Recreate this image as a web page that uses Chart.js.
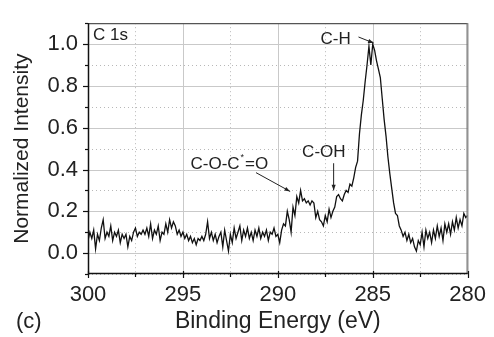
<!DOCTYPE html>
<html>
<head>
<meta charset="utf-8">
<style>
  html, body { margin: 0; padding: 0; background: #fff; }
  #wrap { width: 494px; height: 337px; position: relative; }
</style>
<script src="https://cdn.jsdelivr.net/npm/chart.js@4.4.1/dist/chart.umd.min.js"></script>
</head>
<body>
<div id="wrap"><canvas id="xps"></canvas></div>
<script>
// C 1s XPS spectrum

const energy = [
  300.0,299.9,299.8,299.7,299.6,299.5,299.4,299.3,299.2,299.1,
  299.0,298.9,298.8,298.7,298.6,298.5,298.4,298.3,298.2,298.1,
  298.0,297.9,297.8,297.7,297.6,297.5,297.4,297.3,297.2,297.1,
  297.0,296.9,296.8,296.7,296.6,296.5,296.4,296.3,296.2,296.1,
  296.0,295.9,295.8,295.7,295.6,295.5,295.4,295.3,295.2,295.1,
  295.0,294.9,294.8,294.7,294.6,294.5,294.4,294.3,294.2,294.1,
  294.0,293.9,293.8,293.7,293.6,293.5,293.4,293.3,293.2,293.1,
  293.0,292.9,292.8,292.7,292.6,292.5,292.4,292.3,292.2,292.1,
  292.0,291.9,291.8,291.7,291.6,291.5,291.4,291.3,291.2,291.1,
  291.0,290.9,290.8,290.7,290.6,290.5,290.4,290.3,290.2,290.1,
  290.0,289.9,289.8,289.7,289.6,289.5,289.4,289.3,289.2,289.1,
  289.0,288.9,288.8,288.7,288.6,288.5,288.4,288.3,288.2,288.1,
  288.0,287.9,287.8,287.7,287.6,287.5,287.4,287.3,287.2,287.1,
  287.0,286.9,286.8,286.7,286.6,286.5,286.4,286.3,286.2,286.1,
  286.0,285.9,285.8,285.7,285.6,285.5,285.4,285.3,285.2,285.1,
  285.0,284.9,284.8,284.7,284.6,284.5,284.4,284.3,284.2,284.1,
  284.0,283.9,283.8,283.7,283.6,283.5,283.4,283.3,283.2,283.1,
  283.0,282.9,282.8,282.7,282.6,282.5,282.4,282.3,282.2,282.1,
  282.0,281.9,281.8,281.7,281.6,281.5,281.4,281.3,281.2,281.1,
  281.0,280.9,280.8,280.7,280.6,280.5,280.4,280.3,280.2,280.1,
  280.0
];

const intensity = [
  0.06,0.10,0.07,0.11,0.02,0.09,0.06,0.12,0.16,0.07,
  0.10,0.08,0.13,0.06,0.10,0.08,0.11,0.05,0.09,0.07,
  0.09,0.03,0.08,0.06,0.10,0.12,0.08,0.10,0.09,0.11,
  0.09,0.12,0.08,0.14,0.07,0.11,0.09,0.13,0.06,0.10,
  0.09,0.14,0.10,0.16,0.12,0.15,0.13,0.09,0.11,0.08,
  0.10,0.07,0.09,0.06,0.08,0.05,0.07,0.04,0.07,0.06,
  0.08,0.06,0.09,0.15,0.07,0.10,0.06,0.09,0.05,0.08,
  0.10,0.03,0.11,0.06,0.01,0.09,0.05,0.12,0.07,0.10,
  0.13,0.06,0.11,0.08,0.12,0.07,0.10,0.06,0.11,0.08,
  0.12,0.07,0.10,0.08,0.11,0.06,0.10,0.09,0.12,0.08,
  0.09,0.05,0.11,0.14,0.13,0.20,0.16,0.10,0.22,0.18,
  0.27,0.24,0.30,0.25,0.26,0.24,0.25,0.23,0.25,0.24,
  0.17,0.20,0.16,0.15,0.13,0.18,0.15,0.21,0.17,0.20,
  0.22,0.27,0.28,0.26,0.25,0.28,0.30,0.29,0.33,0.32,
  0.36,0.41,0.44,0.57,0.66,0.73,0.82,0.90,0.99,0.90,
  1.00,0.97,0.92,0.88,0.84,0.74,0.64,0.56,0.46,0.38,
  0.31,0.24,0.19,0.18,0.13,0.11,0.08,0.10,0.06,0.09,
  0.05,0.07,0.03,0.01,0.06,0.04,0.10,0.03,0.11,0.07,
  0.10,0.05,0.11,0.07,0.13,0.08,0.12,0.06,0.14,0.10,
  0.14,0.09,0.15,0.11,0.17,0.12,0.16,0.13,0.19,0.17,
  0.18
];

const xTicks = [300, 295, 290, 285, 280];
const xMinor = [297.5, 292.5, 287.5, 282.5];
const yTicks = [0.0, 0.2, 0.4, 0.6, 0.8, 1.0];
const yMinor = [-0.1, 0.1, 0.3, 0.5, 0.7, 0.9, 1.1];

// annotation text, anchored in data units
const notes = [
  { text: "C 1s", x: 299.74, y: 1.04, size: 17 },
  { text: "C-H",  x: 287.75, y: 1.023, size: 17 },
  { text: "C-OH", x: 288.72, y: 0.484, size: 17 }
];
const arrows = [
  { x0: 285.75, y0: 1.034, x1: 284.95, y1: 1.005 },
  { x0: 287.06, y0: 0.43,  x1: 287.06, y1: 0.30 },
  { x0: 291.15, y0: 0.385, x1: 289.35, y1: 0.295 }
];

const FONT = "'Liberation Sans', Arial, Helvetica, sans-serif";

function seg(ctx, x0, y0, x1, y1){
  ctx.beginPath(); ctx.moveTo(x0, y0); ctx.lineTo(x1, y1); ctx.stroke();
}

const framePlugin = {
  id: "frame",
  beforeDatasetsDraw(chart){
    const { ctx, chartArea: a, scales: { x, y } } = chart;
    ctx.save();
    // dotted minor grid
    ctx.strokeStyle = "#b8b8b8"; ctx.lineWidth = 1; ctx.setLineDash([1, 3]);
    xMinor.forEach(v => { const p = Math.round(x.getPixelForValue(v)) + 0.5; seg(ctx, p, a.top, p, a.bottom); });
    yMinor.forEach(v => { const p = Math.round(y.getPixelForValue(v)) + 0.5; seg(ctx, a.left, p, a.right, p); });
    // solid major grid
    ctx.setLineDash([]); ctx.strokeStyle = "#c9c9c9";
    xTicks.forEach(v => { const p = Math.round(x.getPixelForValue(v)) + 0.5; seg(ctx, p, a.top, p, a.bottom); });
    yTicks.forEach(v => { const p = Math.round(y.getPixelForValue(v)) + 0.5; seg(ctx, a.left, p, a.right, p); });
    ctx.restore();
  },
  afterDatasetsDraw(chart){
    const { ctx, chartArea: a, scales: { x, y } } = chart;
    ctx.save();
    // frame: top/right grey, left/bottom black
    ctx.lineWidth = 1.3;
    ctx.strokeStyle = "#555";
    seg(ctx, a.left, a.top + 0.5, a.right, a.top + 0.5);
    ctx.strokeStyle = "#777";
    seg(ctx, a.right - 0.5, a.top, a.right - 0.5, a.bottom);
    ctx.lineWidth = 1.5; ctx.strokeStyle = "#111";
    seg(ctx, a.left + 0.5, a.top, a.left + 0.5, a.bottom + 1);
    seg(ctx, a.left, a.bottom - 0.5, a.right, a.bottom - 0.5);
    // tick marks
    ctx.lineWidth = 1.2;
    xTicks.forEach(v => { const p = Math.round(x.getPixelForValue(v)) + 0.5; seg(ctx, p, a.bottom - 3, p, a.bottom + 4); });
    xMinor.forEach(v => { const p = Math.round(x.getPixelForValue(v)) + 0.5; seg(ctx, p, a.bottom, p, a.bottom + 3); });
    yTicks.forEach(v => { const p = Math.round(y.getPixelForValue(v)) + 0.5; seg(ctx, a.left - 5, p, a.left, p); });
    yMinor.forEach(v => { const p = Math.round(y.getPixelForValue(v)) + 0.5; seg(ctx, a.left - 3, p, a.left, p); });

    // labels
    ctx.fillStyle = "#222"; ctx.textBaseline = "middle"; ctx.textAlign = "left";
    notes.forEach(n => {
      ctx.font = n.size + "px " + FONT;
      ctx.fillText(n.text, x.getPixelForValue(n.x), y.getPixelForValue(n.y));
    });
    // C-O-C*=O with raised star
    let px = x.getPixelForValue(294.6), py = y.getPixelForValue(0.424);
    ctx.font = "17px " + FONT;
    ctx.fillText("C-O-C", px, py); px += ctx.measureText("C-O-C").width + 1;
    ctx.font = "9px " + FONT;
    ctx.fillText("*", px, py - 7); px += ctx.measureText("*").width + 1;
    ctx.font = "17px " + FONT;
    ctx.fillText("=O", px, py);

    // arrows
    ctx.strokeStyle = "#222"; ctx.fillStyle = "#222"; ctx.lineWidth = 1;
    arrows.forEach(r => {
      const x0 = x.getPixelForValue(r.x0), y0 = y.getPixelForValue(r.y0);
      const x1 = x.getPixelForValue(r.x1), y1 = y.getPixelForValue(r.y1);
      seg(ctx, x0, y0, x1, y1);
      const ang = Math.atan2(y1 - y0, x1 - x0), h = 6, w = 0.35;
      ctx.beginPath();
      ctx.moveTo(x1, y1);
      ctx.lineTo(x1 - h * Math.cos(ang - w), y1 - h * Math.sin(ang - w));
      ctx.lineTo(x1 - h * Math.cos(ang + w), y1 - h * Math.sin(ang + w));
      ctx.closePath(); ctx.fill();
    });

    // panel tag
    ctx.font = "22px " + FONT; ctx.fillStyle = "#222";
    ctx.fillText("(c)", 16, 322);
    ctx.restore();
  }
};

new Chart(document.getElementById("xps"), {
  type: "line",
  data: {
    datasets: [{
      data: energy.map((e, i) => ({ x: e, y: intensity[i] })),
      borderColor: "#111",
      borderWidth: 1.3,
      pointRadius: 0,
      tension: 0,
      fill: false
    }]
  },
  options: {
    responsive: true,
    maintainAspectRatio: false,
    animation: false,
    events: [],
    layout: { padding: { top: 13, right: 21, bottom: 0, left: 0 } },
    plugins: { legend: { display: false }, tooltip: { enabled: false } },
    scales: {
      x: {
        type: "linear", reverse: true, min: 280, max: 300,
        afterBuildTicks: s => { s.ticks = xTicks.map(v => ({ value: v })); },
        afterFit: s => { s.height = 63; },
        grid: { display: false, drawTicks: false },
        border: { display: false },
        ticks: {
          padding: 8, color: "#222", maxRotation: 0,
          font: { family: FONT, size: 22 },
          callback: v => String(v)
        },
        title: {
          display: true, text: "Binding Energy (eV)", color: "#222",
          font: { family: FONT, size: 23 }, padding: { top: 0, bottom: 2 }
        }
      },
      y: {
        type: "linear", min: -0.1, max: 1.1,
        afterBuildTicks: s => { s.ticks = yTicks.map(v => ({ value: v })); },
        afterFit: s => { s.width = 88; },
        grid: { display: false, drawTicks: false },
        border: { display: false },
        ticks: {
          padding: 10, color: "#222",
          font: { family: FONT, size: 22 },
          callback: v => Number(v).toFixed(1)
        },
        title: {
          display: true, text: "Normalized Intensity", color: "#222",
          font: { family: FONT, size: 21 }, padding: { top: 10, bottom: 0 }
        }
      }
    }
  },
  plugins: [framePlugin]
});
</script>
</body>
</html>
